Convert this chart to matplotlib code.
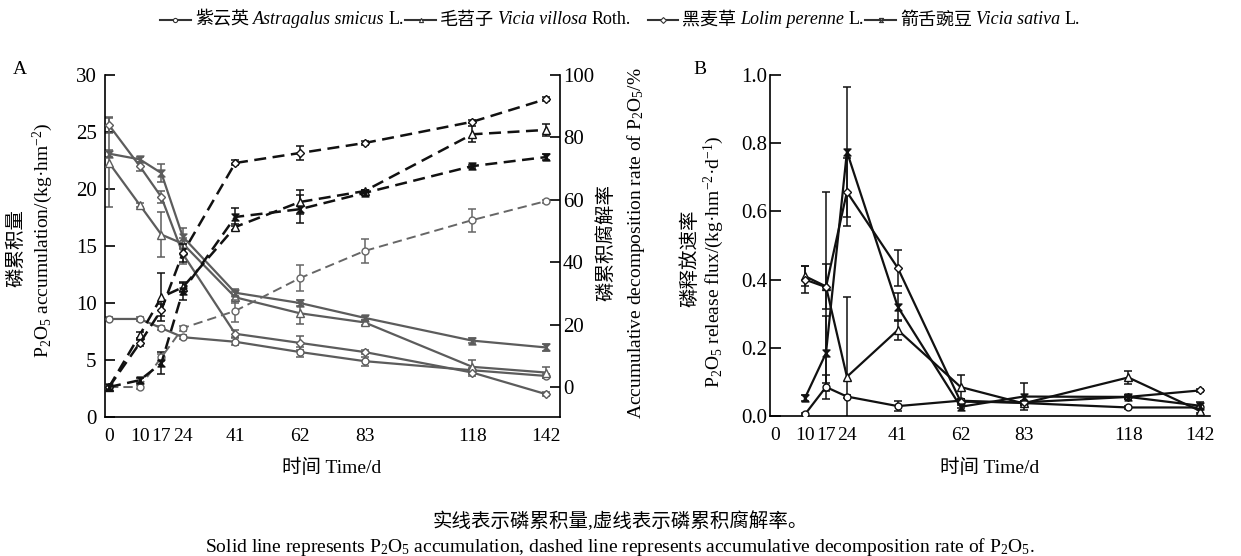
import numpy as np
import matplotlib
matplotlib.use('Agg')
import matplotlib.pyplot as plt
from matplotlib.path import Path
from matplotlib.lines import Line2D
from matplotlib.offsetbox import AnchoredOffsetbox, HPacker, TextArea, DrawingArea

plt.rcParams['font.family'] = ['Liberation Serif', 'Noto Sans CJK SC']
plt.rcParams['mathtext.fontset'] = 'custom'
plt.rcParams['mathtext.rm'] = 'Liberation Serif'
plt.rcParams['mathtext.it'] = 'Liberation Serif:italic'
plt.rcParams['font.size'] = 14
plt.rcParams['axes.linewidth'] = 1.2

# sampling days
days = [0, 10, 17, 24, 41, 62, 83, 118, 142]
days_b = [10, 17, 24, 41, 62, 83, 118, 142]

# P2O5 accumulation, kg/hm2 (solid lines, panel A left axis)
acc_circle = [8.6, 8.6, 7.8, 7.0, 6.6, 5.7, 4.9, 4.1, 3.6]
acc_triangle = [22.3, 18.6, 16.0, 15.2, 10.5, 9.1, 8.3, 4.4, 3.9]
acc_diamond = [25.6, 22.0, 19.3, 14.3, 7.3, 6.5, 5.7, 3.9, 2.0]
acc_star = [23.1, 22.6, 21.4, 15.8, 10.9, 10.0, 8.7, 6.7, 6.1]
acc_circle_err = [0.2, 0.2, 0.2, 0.2, 0.3, 0.4, 0.4, 0.2, 0.2]
acc_triangle_err = [3.9, 0.2, 2.0, 0.5, 0.5, 0.9, 0.2, 0.6, 0.5]
acc_diamond_err = [0.7, 0.4, 0.5, 0.9, 0.3, 0.6, 0.2, 0.3, 0.2]
acc_star_err = [0.3, 0.2, 0.8, 0.8, 0.3, 0.3, 0.2, 0.2, 0.3]

# accumulative decomposition rate, % (dashed lines, panel A right axis)
dec_circle = [0, 0, 9.5, 18.9, 24.4, 34.9, 43.6, 53.5, 59.6]
dec_triangle = [0, 16.7, 28.8, 32.0, 51.3, 59.3, 62.8, 81.0, 82.4]
dec_diamond = [0, 14.1, 24.7, 43.0, 71.8, 75.0, 78.2, 85.0, 92.3]
dec_star = [0, 2.2, 7.6, 30.8, 54.5, 57.0, 62.2, 70.8, 73.7]
dec_circle_err = [0, 0.5, 1.0, 0.8, 3.5, 4.2, 3.8, 3.7, 0.5]
dec_triangle_err = [0, 1.0, 7.7, 1.5, 1.0, 4.0, 0.5, 2.6, 2.0]
dec_diamond_err = [0, 1.0, 2.0, 3.0, 0.8, 2.2, 0.5, 0.5, 0.5]
dec_star_err = [0, 0.8, 3.5, 3.0, 3.0, 4.5, 0.8, 0.5, 1.0]

# P2O5 release flux, kg/hm2/d (panel B)
rate_circle = [0.005, 0.085, 0.057, 0.029, 0.045, 0.038, 0.025, 0.025]
rate_triangle = [0.41, 0.38, 0.115, 0.252, 0.085, 0.037, 0.113, 0.015]
rate_diamond = [0.40, 0.378, 0.657, 0.434, 0.042, 0.040, 0.056, 0.075]
rate_star = [0.053, 0.184, 0.775, 0.32, 0.027, 0.057, 0.056, 0.03]
rate_circle_err = [0.003, 0.035, 0.005, 0.015, 0.005, 0.005, 0.004, 0.005]
rate_triangle_err = [0.03, 0.065, 0.235, 0.03, 0.035, 0.005, 0.02, 0.005]
rate_diamond_err = [0.04, 0.28, 0.10, 0.053, 0.005, 0.005, 0.005, 0.005]
rate_star_err = [0.01, 0.11, 0.19, 0.042, 0.005, 0.04, 0.005, 0.01]

hourglass = Path([(-1, 1), (1, 1), (-1, -1), (1, -1), (-1, 1)],
                 [Path.MOVETO, Path.LINETO, Path.LINETO, Path.LINETO, Path.CLOSEPOLY])

W, H = 1241, 556
fig = plt.figure(figsize=(W / 100, H / 100), dpi=100)
axA = fig.add_axes([105 / W, 1 - 417 / H, 455 / W, 342 / H])
axA2 = axA.twinx()
axB = fig.add_axes([770 / W, 1 - 416 / H, 440 / W, 341 / H])

gray = '#5c5c5c'
black = '#111111'
dash = (0, (4.8, 2.6))


def draw(ax, x, y, err, color, marker, ms, ls='-', filled=False, lw=1.6):
    ax.errorbar(x, y, yerr=err, fmt='none', ecolor=color, elinewidth=1.1,
                capsize=3, capthick=1.1, zorder=2)
    ax.plot(x, y, color=color, lw=lw, ls=ls, marker=marker, ms=ms,
            mfc=color if filled else 'white', mec=color, mew=1.0, zorder=3)


# panel A: accumulation (solid)
draw(axA, days, acc_circle, acc_circle_err, gray, 'o', 5)
draw(axA, days, acc_triangle, acc_triangle_err, gray, '^', 5.5)
draw(axA, days, acc_diamond, acc_diamond_err, gray, 'D', 4.5)
draw(axA, days, acc_star, acc_star_err, gray, hourglass, 5, filled=True)

# panel A: decomposition rate (dashed)
draw(axA2, days, dec_circle, dec_circle_err, '#666666', 'o', 5, ls=dash, lw=1.4)
draw(axA2, days, dec_triangle, dec_triangle_err, black, '^', 5.5, ls=dash, lw=1.8)
draw(axA2, days, dec_diamond, dec_diamond_err, black, 'D', 4.5, ls=dash, lw=1.8)
draw(axA2, days, dec_star, dec_star_err, black, hourglass, 5, ls=dash, filled=True, lw=1.8)

axA.set_xlim(-1.3, 146.5)
axA.set_ylim(0, 30)
axA.set_yticks([0, 5, 10, 15, 20, 25, 30])
axA.set_xticks(days)
axA2.set_ylim(-9.6, 100)
axA2.set_yticks([0, 20, 40, 60, 80, 100])
for s in ['top', 'right']:
    axA.spines[s].set_visible(False)
for s in ['top', 'left', 'bottom']:
    axA2.spines[s].set_visible(False)
axA.tick_params(axis='y', direction='in', length=7, width=1.2, pad=6, labelsize=15)
axA.tick_params(axis='x', length=0, pad=8, labelsize=14)
axA2.tick_params(axis='y', direction='in', length=7, width=1.2, pad=2, labelsize=15)

# panel B: release flux
draw(axB, days_b, rate_circle, rate_circle_err, black, 'o', 5)
draw(axB, days_b, rate_triangle, rate_triangle_err, black, '^', 5.5)
draw(axB, days_b, rate_diamond, rate_diamond_err, black, 'D', 4.5)
draw(axB, days_b, rate_star, rate_star_err, black, hourglass, 5, filled=True)

axB.set_xlim(-1.7, 145.3)
axB.set_ylim(0, 1.0)
axB.set_yticks([0.0, 0.2, 0.4, 0.6, 0.8, 1.0])
axB.set_yticklabels(['0.0', '0.2', '0.4', '0.6', '0.8', '1.0'])
axB.set_xticks(days)
for s in ['top', 'right']:
    axB.spines[s].set_visible(False)
axB.tick_params(axis='y', direction='in', length=8, width=1.2, pad=2, labelsize=15)
axB.tick_params(axis='x', length=0, pad=8, labelsize=14)


def ftext(x, y, s, **kw):
    fig.text(x / W, 1 - y / H, s, ha='center', va='center', **kw)


# axis labels
ftext(16, 248, '磷累积量', rotation=90, fontsize=14)
ftext(43, 240, r'$\mathregular{P_2O_5}$ accumulation/(kg·hm$^{-2}$)', rotation=90, fontsize=14)
ftext(606, 243, '磷累积腐解率', rotation=90, fontsize=14)
ftext(636, 243, r'Accumulative decomposition rate of $\mathregular{P_2O_5}$/%', rotation=90, fontsize=14)
ftext(690, 258, '磷释放速率', rotation=90, fontsize=14)
ftext(714, 262, r'$\mathregular{P_2O_5}$ release flux/(kg·hm$^{-2}$·d$^{-1}$)', rotation=90, fontsize=14)
ftext(332, 468, '时间 Time/d', fontsize=14)
ftext(990, 468, '时间 Time/d', fontsize=14)
ftext(20, 70, 'A', fontsize=14)
ftext(700, 70, 'B', fontsize=14)

# captions
ftext(620, 521, '实线表示磷累积量,虚线表示磷累积腐解率。', fontsize=14)
ftext(620, 547, r'Solid line represents $\mathregular{P_2O_5}$ accumulation, dashed line represents '
      r'accumulative decomposition rate of $\mathregular{P_2O_5}$.', fontsize=14)

# legend across the top
legend_markers = ['o', '^', 'D', hourglass]
legend_cn = ['紫云英', '毛苕子', '黑麦草', '箭舌豌豆']
legend_latin = ['Astragalus smicus', 'Vicia villosa', 'Lolim perenne', 'Vicia sativa']
legend_tail = ['L.', 'Roth.', 'L.', 'L.']


def legend_entry(marker, cn, latin, tail):
    da = DrawingArea(22, 10, 0, 0)
    da.add_artist(Line2D([0, 22], [5, 5], color='#333333', lw=1.5))
    da.add_artist(Line2D([11], [5], marker=marker, ms=3.0, mfc='white',
                         mec='#333333', mew=0.8))
    t1 = TextArea(cn, textprops=dict(fontsize=13))
    t2 = TextArea(latin, textprops=dict(fontsize=13, style='italic'))
    t3 = TextArea(tail, textprops=dict(fontsize=13))
    return HPacker(children=[da, t1, t2, t3], align='center', pad=0, sep=3)


entries = []
for i in range(4):
    entries.append(legend_entry(legend_markers[i], legend_cn[i], legend_latin[i], legend_tail[i]))
    if i == 1:
        entries.append(DrawingArea(10, 10, 0, 0))
box = HPacker(children=entries, align='center', pad=0, sep=1)
anchored = AnchoredOffsetbox(loc='center', child=box, frameon=False,
                             bbox_to_anchor=(620 / W, 1 - 20 / H),
                             bbox_transform=fig.transFigure, borderpad=0, pad=0)
fig.add_artist(anchored)

fig.savefig('out.png', dpi=100)
